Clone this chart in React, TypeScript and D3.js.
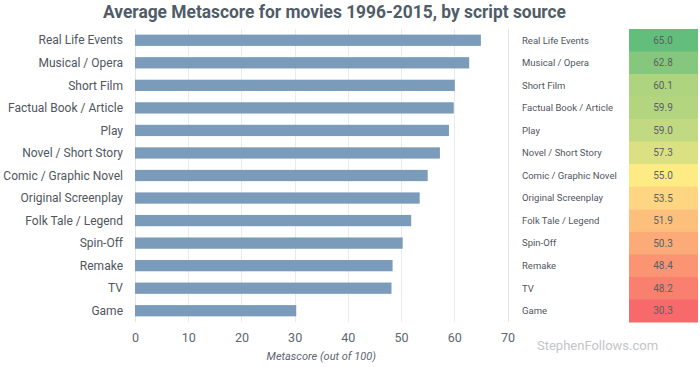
import * as d3 from 'd3';
import { useEffect, useRef } from 'react';

const sources = [
  'Real Life Events',
  'Musical / Opera',
  'Short Film',
  'Factual Book / Article',
  'Play',
  'Novel / Short Story',
  'Comic / Graphic Novel',
  'Original Screenplay',
  'Folk Tale / Legend',
  'Spin-Off',
  'Remake',
  'TV',
  'Game',
];
const scores = [65.0, 62.8, 60.1, 59.9, 59.0, 57.3, 55.0, 53.5, 51.9, 50.3, 48.4, 48.2, 30.3];
const xTicks = [0, 10, 20, 30, 40, 50, 60, 70];

const FONT = 'Roboto, "Noto Sans", sans-serif';

export default function App() {
  const ref = useRef<SVGSVGElement>(null);

  useEffect(() => {
    if (!ref.current) return;
    const svg = d3.select(ref.current);
    svg.selectAll('*').remove();

    const data = sources.map((name, i) => ({ name, value: scores[i] }));

    // title
    svg
      .append('text')
      .text('Average Metascore for movies 1996-2015, by script source')
      .attr('x', 103)
      .attr('y', 18)
      .attr('textLength', 463)
      .attr('lengthAdjust', 'spacingAndGlyphs')
      .attr('font-family', FONT)
      .attr('font-weight', 700)
      .attr('font-size', 18.5)
      .attr('fill', '#505c68');

    const top = 29,
      bottom = 322;
    const x = d3.scaleLinear().domain([0, 70]).range([135, 507.5]);
    const y = d3
      .scaleBand()
      .domain(sources)
      .range([top, bottom])
      .paddingInner(0.5)
      .paddingOuter(0.25);

    // grid
    svg
      .append('g')
      .selectAll('line')
      .data(xTicks)
      .join('line')
      .attr('x1', (d) => Math.round(x(d)) + 0.5)
      .attr('x2', (d) => Math.round(x(d)) + 0.5)
      .attr('y1', top)
      .attr('y2', bottom)
      .attr('stroke', (d) => (d === 0 || d === 70 ? '#e3e6ea' : '#e8ebef'))
      .attr('stroke-width', 1);

    // bars
    svg
      .append('g')
      .selectAll('rect')
      .data(data)
      .join('rect')
      .attr('x', x(0))
      .attr('y', (d) => y(d.name) ?? 0)
      .attr('width', (d) => x(d.value) - x(0))
      .attr('height', y.bandwidth())
      .attr('fill', '#7a9cba');

    // category labels
    svg
      .append('g')
      .selectAll('text')
      .data(data)
      .join('text')
      .text((d) => d.name)
      .attr('x', 123)
      .attr('y', (d) => (y(d.name) ?? 0) + y.bandwidth() / 2)
      .attr('dy', '0.35em')
      .attr('text-anchor', 'end')
      .attr('font-family', FONT)
      .attr('font-size', 12)
      .attr('fill', '#4f565e');

    // x axis
    const xAxis = d3.axisBottom(x).tickValues(xTicks).tickSize(0).tickPadding(0);
    const gx = svg.append('g').attr('transform', `translate(0,${bottom + 11})`).call(xAxis);
    gx.select('.domain').remove();
    gx.selectAll('text')
      .attr('dy', '0.71em')
      .attr('font-family', FONT)
      .attr('font-size', 12.5)
      .attr('fill', '#5c6670');

    svg
      .append('text')
      .text('Metascore (out of 100)')
      .attr('x', x(35))
      .attr('y', 360)
      .attr('text-anchor', 'middle')
      .attr('font-family', FONT)
      .attr('font-style', 'italic')
      .attr('font-size', 11)
      .attr('fill', '#5c6670');

    // table on the right: red→yellow by rank below the median, yellow→green by value above
    const sorted = [...scores].sort((a, b) => a - b);
    const mid = d3.median(scores) ?? 55;
    const lowColor = d3
      .scaleLinear<string>()
      .domain([0, (scores.length - 1) / 2])
      .range(['#f8696b', '#ffeb84']);
    const highColor = d3
      .scaleLinear<string>()
      .domain([mid, d3.max(scores) ?? 65])
      .range(['#ffeb84', '#63be7b']);
    const color = (v: number) => (v >= mid ? highColor(v) : lowColor(sorted.indexOf(v)));

    const yt = d3.scaleBand().domain(sources).range([top, bottom]);

    const row = svg
      .append('g')
      .selectAll('g')
      .data(data)
      .join('g')
      .attr('transform', (d) => `translate(0,${yt(d.name)})`);
    row
      .append('rect')
      .attr('x', 629)
      .attr('width', 69)
      .attr('height', yt.bandwidth() + 0.5)
      .attr('fill', (d) => color(d.value));
    row
      .append('text')
      .text((d) => d.name)
      .attr('x', 522)
      .attr('y', yt.bandwidth() / 2)
      .attr('dy', '0.35em')
      .attr('font-family', FONT)
      .attr('font-size', 9.5)
      .attr('fill', '#4f565e');
    row
      .append('text')
      .text((d) => d3.format('.1f')(d.value))
      .attr('x', 663)
      .attr('y', yt.bandwidth() / 2)
      .attr('dy', '0.35em')
      .attr('text-anchor', 'middle')
      .attr('font-family', FONT)
      .attr('font-size', 10)
      .attr('fill', '#5a5f66');

    // watermark
    svg
      .append('text')
      .text('StephenFollows.com')
      .attr('x', 537)
      .attr('y', 350)
      .attr('font-family', FONT)
      .attr('font-size', 13)
      .attr('fill', '#c3c5c8');
  }, []);

  return (
    <svg
      ref={ref}
      width={700}
      height={367}
      style={{ position: 'absolute', left: 0, top: 0, background: '#fff' }}
    />
  );
}
